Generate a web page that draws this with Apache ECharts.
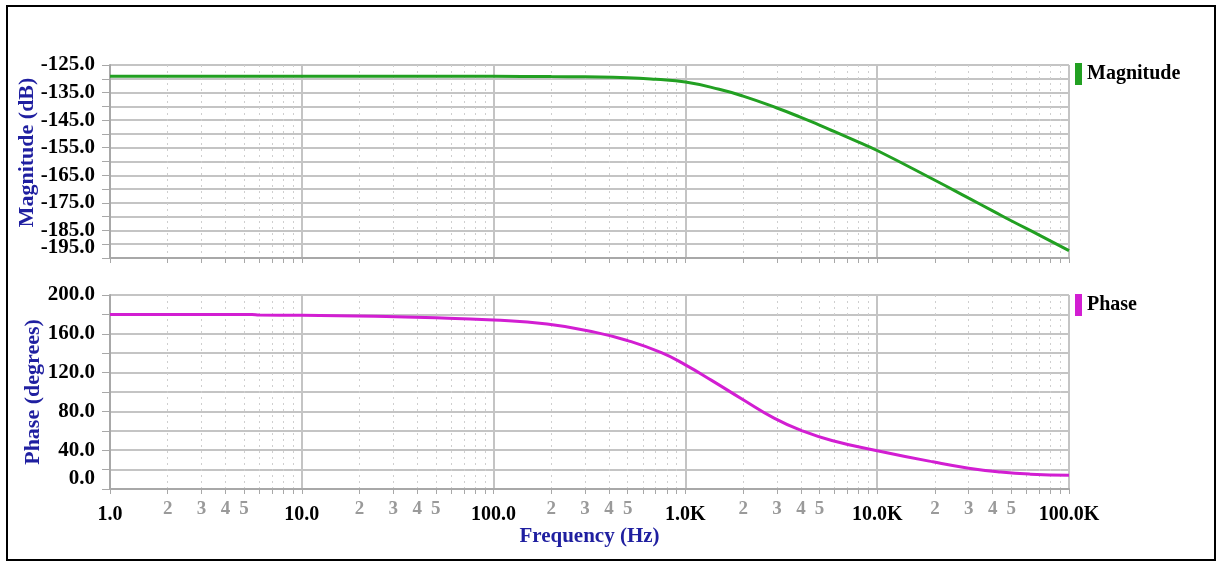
<!DOCTYPE html>
<html><head><meta charset="utf-8">
<script src="https://cdn.jsdelivr.net/npm/echarts@6/dist/echarts.min.js"></script>
<style>html,body{margin:0;padding:0;background:#fff}#c{width:1220px;height:565px}</style>
</head><body><div id="c"></div>
<script>
// ---- data ----
const magFreqHz = [1, 10, 100, 200, 300, 500, 700, 1000, 1500, 2000, 3000, 4000, 5000, 6000, 8000, 10000, 20000, 30000, 40000, 50000, 70000, 100000];
const magDb = [-129.1, -129.1, -129.1, -129.2, -129.3, -129.6, -130.2, -131.2, -133.8, -136.3, -140.6, -144.0, -146.8, -149.2, -153.0, -156.0, -166.8, -173.3, -177.9, -181.5, -186.7, -192.3];
const phaseFreqHz = [1, 5.5, 6, 10, 24, 44, 100, 190, 340, 500, 750, 1000, 1370, 2000, 2900, 4000, 5800, 10000, 19500, 30000, 44000, 63000, 100000];
const phaseDeg = [180, 180, 179.3, 179.1, 178, 176.8, 174.2, 170, 161.5, 153, 140.5, 128, 112, 92, 73, 60.5, 50, 39.5, 28, 21.5, 17.5, 15.3, 14.2];
const decadeExps = [0, 1, 2, 3, 4, 5];
const majorLabels = ['1.0', '10.0', '100.0', '1.0K', '10.0K', '100.0K'];
const minorMultipliers = [2, 3, 4, 5, 6, 7, 8, 9];
const minorLabeled = [2, 3, 4, 5];

// ---- derived ----
const lg = Math.log10;
const magData = magFreqHz.map((f, i) => [lg(f), magDb[i]]);
const phaseData = phaseFreqHz.map((f, i) => [lg(f), phaseDeg[i]]);
const tickVals = [];
const labelVals = [];
decadeExps.forEach(e => { tickVals.push(e); labelVals.push(e); });
decadeExps.slice(0, -1).forEach(e => {
  minorMultipliers.forEach(m => tickVals.push(e + lg(m)));
  minorLabeled.forEach(m => labelVals.push(e + lg(m)));
});
const fmtX = v => {
  const r = Math.round(v);
  if (Math.abs(v - r) < 1e-6) return '{maj|' + majorLabels[decadeExps.indexOf(r)] + '}';
  const e = Math.floor(v + 1e-9);
  return '{min|' + Math.round(Math.pow(10, v - e)) + '}';
};

const SERIF = '"Liberation Serif", "Times New Roman", serif';
const GRID_C = '#c4c4c4';
const AX_C = '#a8a8a8';
const TITLE_C = '#1f1fa0';

function xBottom(gi, withLabels) {
  return {
    type: 'value', gridIndex: gi, position: 'bottom', min: 0, max: 5,
    axisLine: { show: true, lineStyle: { color: AX_C, width: 2 } },
    axisTick: { show: true, customValues: tickVals, length: 5, lineStyle: { color: AX_C, width: 1 } },
    axisLabel: withLabels ? {
      show: true, customValues: labelVals, formatter: fmtX, margin: 9,
      rich: {
        maj: { fontFamily: SERIF, fontWeight: 'bold', fontSize: 20, color: '#000', lineHeight: 34 },
        min: { fontFamily: SERIF, fontWeight: 'bold', fontSize: 19, color: '#9a9a9a', lineHeight: 22 }
      }
    } : { show: false },
    splitLine: { show: true, lineStyle: { color: '#cfcfcf', width: 1, type: [2, 4] } },
    name: withLabels ? 'Frequency (Hz)' : '',
    nameLocation: 'middle', nameGap: 37,
    nameTextStyle: { fontFamily: SERIF, fontWeight: 'bold', fontSize: 21, color: TITLE_C }
  };
}
function xTop(gi) {
  return {
    type: 'value', gridIndex: gi, position: 'top', min: 0, max: 5, interval: 1,
    axisLine: { show: false }, axisTick: { show: false }, axisLabel: { show: false },
    splitLine: { show: true, lineStyle: { color: GRID_C, width: 2 } }
  };
}
function yAx(gi, min, max, interval, labelStep, name, nameGap, padShift) {
  return {
    type: 'value', gridIndex: gi, min, max, interval,
    axisLine: { show: true, lineStyle: { color: AX_C, width: 2 } },
    axisTick: { show: true, length: 8, lineStyle: { color: AX_C, width: 1 } },
    axisLabel: {
      margin: 15, fontFamily: SERIF, fontWeight: 'bold', fontSize: 21, color: '#000',
      verticalAlignMinLabel: 'bottom',
      formatter: v => (Math.round(v - min) % labelStep === 0 ? v.toFixed(1) : '')
    },
    splitLine: { show: true, lineStyle: { color: GRID_C, width: 2 } },
    name, nameLocation: 'middle', nameGap, nameRotate: 90, nameMoveOverlap: false,
    nameTextStyle: { fontFamily: SERIF, fontWeight: 'bold', fontSize: 22, color: TITLE_C, padding: [0, 0, 0, padShift] }
  };
}

const chart = echarts.init(document.getElementById('c'), null, { renderer: 'canvas' });
chart.setOption({
  backgroundColor: '#fff',
  animation: false,
  grid: [
    { left: 110, top: 65, width: 959, height: 193 },
    { left: 110, top: 295, width: 959, height: 194 }
  ],
  xAxis: [xBottom(0, false), xTop(0), xBottom(1, true), xTop(1)],
  yAxis: [
    yAx(0, -195, -125, 5, 10, 'Magnitude (dB)', 72, 18),
    yAx(1, 0, 200, 20, 40, 'Phase (degrees)', 66, 0)
  ],
  legend: [
    { data: ['Magnitude'], left: 1075, top: 63, padding: 0, orient: 'vertical', icon: 'rect', itemWidth: 7, itemHeight: 22, itemGap: 0, selectedMode: false,
      textStyle: { fontFamily: SERIF, fontWeight: 'bold', fontSize: 20, color: '#000', padding: [6, 0, 0, 0] } },
    { data: ['Phase'], left: 1075, top: 294, padding: 0, orient: 'vertical', icon: 'rect', itemWidth: 7, itemHeight: 22, itemGap: 0, selectedMode: false,
      textStyle: { fontFamily: SERIF, fontWeight: 'bold', fontSize: 20, color: '#000', padding: [6, 0, 0, 0] } }
  ],
  graphic: [
    { type: 'rect', shape: { x: 7, y: 6, width: 1208, height: 554 }, style: { fill: 'none', stroke: '#000', lineWidth: 2 }, silent: true }
  ],
  series: [
    { name: 'Magnitude', type: 'line', xAxisIndex: 0, yAxisIndex: 0, data: magData, smooth: 0.5,
      showSymbol: false, lineStyle: { color: '#22a022', width: 3 }, itemStyle: { color: '#22a022' } },
    { name: 'Phase', type: 'line', xAxisIndex: 2, yAxisIndex: 1, data: phaseData, smooth: 0.5,
      showSymbol: false, lineStyle: { color: '#d21ed2', width: 3 }, itemStyle: { color: '#d21ed2' } }
  ]
});
</script></body></html>
